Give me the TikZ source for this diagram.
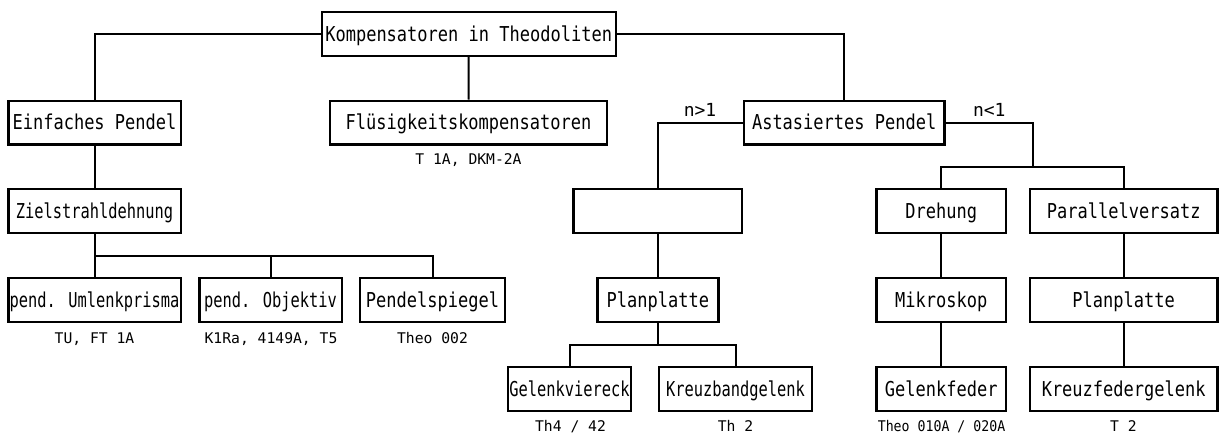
\documentclass[tikz,border=0pt]{standalone}
\usepackage{fontspec}
\usepackage{graphicx}
% Monospaced plotter-like lettering, narrowed
\newfontfamily\boxfont[FakeStretch=0.83]{DejaVu Sans Mono}
\newfontfamily\tightfont[FakeStretch=0.75]{DejaVu Sans Mono}
\newfontfamily\capfont{DejaVu Sans Mono}
\newfontfamily\captightfont[FakeStretch=0.9]{DejaVu Sans Mono}

\tikzset{
  box/.style={draw, line width=2.4pt, inner sep=0pt, minimum height=43.6pt,
    font={\boxfont\fontsize{20.5}{24}\selectfont}, text height=14.9pt, text depth=0pt},
  tight/.style={font={\tightfont\fontsize{20.5}{24}\selectfont}},
  captext/.style={anchor=base, inner sep=0pt, font={\capfont\fontsize{14.7}{17}\selectfont}},
  captight/.style={font={\captightfont\fontsize{14.7}{17}\selectfont}},
  branchlabel/.style={anchor=base, inner sep=0pt, font={\capfont\fontsize{18}{21}\selectfont}},
  link/.style={line width=2pt},
}

\begin{document}
\begin{tikzpicture}[x=1pt, y=-1pt]
\useasboundingbox (0,0) rectangle (1220,434);

% --- boxes ---
\node[box, minimum width=294]   (top)     at (468.7,34)    {Kompensatoren in Theodoliten};
\node[box, minimum width=172.4] (einf)    at (94.5,122.5)  {Einfaches Pendel};
\node[box, minimum width=277]   (flues)   at (468.5,122.5) {Flüsigkeitskompensatoren};
\node[box, minimum width=200.3] (astas)   at (844.2,122.5) {Astasiertes Pendel};
\node[box, tight, minimum width=172.4] (ziel) at (94.5,211) {Zielstrahldehnung};
\node[box, minimum width=168.3] (empty)   at (657.8,211)   {};
\node[box, minimum width=129.3] (dreh)    at (941.3,211)   {Drehung};
\node[box, minimum width=187.3] (parv)    at (1123.7,211)  {Parallelversatz};
\node[box, tight, minimum width=172.4] (umlenk) at (94.5,300) {pend. Umlenkprisma};
\node[box, tight, minimum width=142.4] (objektiv) at (270.5,300) {pend. Objektiv};
\node[box, minimum width=145]   (spiegel) at (432.5,300)   {Pendelspiegel};
\node[box, minimum width=121]   (planA)   at (657.8,300)   {Planplatte};
\node[box, minimum width=129.3] (mikro)   at (941.3,300)   {Mikroskop};
\node[box, minimum width=187.3] (planB)   at (1123.7,300)  {Planplatte};
\node[box, tight, minimum width=123.3] (gviereck) at (569.5,389) {Gelenkviereck};
\node[box, tight, minimum width=153.3] (kband) at (735.5,389) {Kreuzbandgelenk};
\node[box, minimum width=129.3] (gfeder)  at (941.3,389)   {Gelenkfeder};
\node[box, minimum width=187.3] (kfeder)  at (1123.7,389)  {Kreuzfedergelenk};

% --- captions under boxes ---
\node[captext] (c1) at (468.5,164)  {T 1A, DKM-2A};
\node[captext] (c2) at (94.5,343)   {TU, FT 1A};
\node[captext] (c3) at (271,343)    {K1Ra, 4149A, T5};
\node[captext] (c4) at (432.5,343)  {Theo 002};
\node[captext] (c5) at (570.5,431)  {Th4 / 42};
\node[captext] (c6) at (735.5,431)  {Th 2};
\node[captext, captight] (c7) at (941.5,431) {Theo 010A / 020A};
\node[captext] (c8) at (1123.5,431) {T 2};

% --- branch labels ---
\node[branchlabel] (ngt) at (700,116)   {n>1};
\node[branchlabel] (nlt) at (989.3,116) {n<1};

% --- bus points ---
\coordinate (zbus) at (94.5,256);
\coordinate (rbus) at (1032.7,166.7);
\coordinate (pbus) at (657.8,345.3);

% --- connectors ---
\draw[link] (top.west) -| (einf.north);
\draw[link] (top.south) -- (flues.north);
\draw[link] (top.east) -| (astas.north);
\draw[link] (einf.south) -- (ziel.north);
\draw[link] (ziel.south) -- (umlenk.north);
\draw[link] (zbus) -| (objektiv.north);
\draw[link] (zbus) -| (spiegel.north);
\draw[link] (astas.west) -| (empty.north);
\draw[link] (empty.south) -- (planA.north);
\draw[link] (planA.south) -- (pbus);
\draw[link] (gviereck.north) |- (pbus) -| (kband.north);
\draw[link] (astas.east) -| (rbus);
\draw[link] (dreh.north) |- (rbus) -| (parv.north);
\draw[link] (dreh.south) -- (mikro.north);
\draw[link] (mikro.south) -- (gfeder.north);
\draw[link] (parv.south) -- (planB.north);
\draw[link] (planB.south) -- (kfeder.north);
\end{tikzpicture}
\end{document}
